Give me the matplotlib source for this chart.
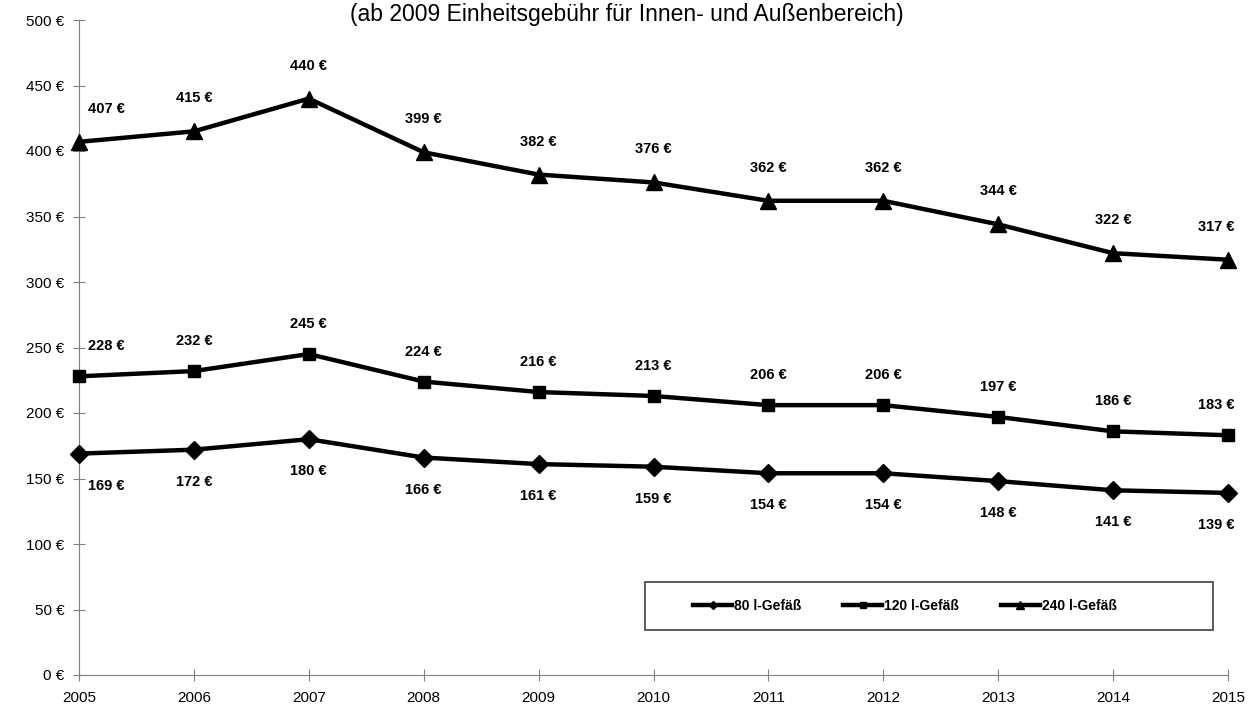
import matplotlib
matplotlib.use("Agg")
import matplotlib.pyplot as plt
from matplotlib.patches import Rectangle
from matplotlib.ticker import FuncFormatter

plt.rcParams['font.family'] = ['Liberation Sans', 'DejaVu Sans']

years = [2005, 2006, 2007, 2008, 2009, 2010, 2011, 2012, 2013, 2014, 2015]
g80 = [169, 172, 180, 166, 161, 159, 154, 154, 148, 141, 139]
g120 = [228, 232, 245, 224, 216, 213, 206, 206, 197, 186, 183]
g240 = [407, 415, 440, 399, 382, 376, 362, 362, 344, 322, 317]
names = ["80 l-Gefäß", "120 l-Gefäß", "240 l-Gefäß"]
subtitle = "(ab 2009 Einheitsgebühr für Innen- und Außenbereich)"

fig = plt.figure(figsize=(12.54, 7.09), dpi=100)
ax = fig.add_axes([79/1254, 34/709, 1149/1254, 655/709])

series = [(g80, "D", 9), (g120, "s", 9), (g240, "^", 11)]
for (vals, mk, ms), nm in zip(series, names):
    ax.plot(years, vals, color="black", lw=3.2, marker=mk, ms=ms,
            label=nm, clip_on=False, zorder=3)


def xshift(i):
    if i == 0:
        return 27
    if i == len(years) - 1:
        return -12
    return 0


for i, (x, v) in enumerate(zip(years, g240)):
    ax.annotate(f"{v} €", (x, v), xytext=(xshift(i), 33), textcoords="offset pixels",
                ha="center", va="center", fontsize=10.5, fontweight="bold")
for i, (x, v) in enumerate(zip(years, g120)):
    ax.annotate(f"{v} €", (x, v), xytext=(xshift(i), 30), textcoords="offset pixels",
                ha="center", va="center", fontsize=10.5, fontweight="bold")
for i, (x, v) in enumerate(zip(years, g80)):
    ax.annotate(f"{v} €", (x, v), xytext=(xshift(i), -32), textcoords="offset pixels",
                ha="center", va="center", fontsize=10.5, fontweight="bold")

ax.set_xlim(2005, 2015)
ax.set_ylim(0, 500)
ax.set_xticks(years)
ax.set_yticks(range(0, 501, 50))
ax.yaxis.set_major_formatter(FuncFormatter(lambda v, p: f"{int(v)} €"))
ax.tick_params(axis="both", direction="inout", length=9, color="#808080",
               labelsize=11)
ax.tick_params(axis="y", pad=6)
ax.tick_params(axis="x", pad=7)
for s in ["top", "right"]:
    ax.spines[s].set_visible(False)
for s in ["left", "bottom"]:
    ax.spines[s].set_color("#808080")

# legend box with frame drawn separately
x0, x1 = (645 - 79) / 1149, (1213 - 79) / 1149
y0, y1 = (675 - 630) / 655, (675 - 582) / 655
ax.add_patch(Rectangle((x0, y0), x1 - x0, y1 - y0, transform=ax.transAxes,
                       fill=False, edgecolor="#404040", lw=1.2, zorder=4))
leg = ax.legend(loc="center", bbox_to_anchor=((905 - 79) / 1149, (y0 + y1) / 2),
                ncol=3, frameon=False, handlelength=2.8,
                handletextpad=0.15, columnspacing=3.0,
                prop={"weight": "bold", "size": 10}, markerscale=0.5)

fig.text(627/1254, 1 - 15/709, subtitle, ha="center", va="center", fontsize=16.5)

fig.savefig("out.png", dpi=100)
